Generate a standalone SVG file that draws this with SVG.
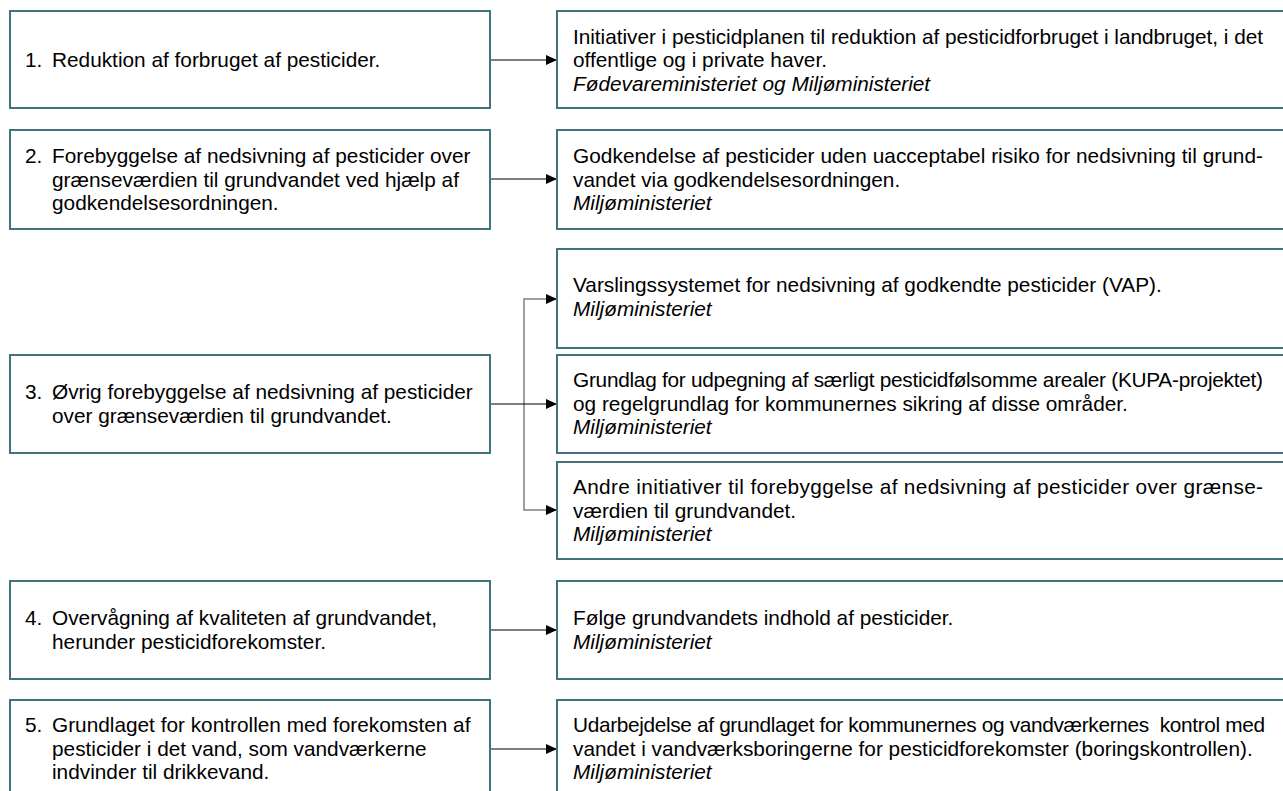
<svg xmlns="http://www.w3.org/2000/svg" width="1283" height="791" viewBox="0 0 1283 791">
<style>
.box{fill:#fff;stroke:#41737f;stroke-width:2}
text{font-family:"Liberation Sans",Arial,sans-serif;font-size:20.8px;fill:#000}
.it{font-style:italic}
.ln{stroke:#000;stroke-width:1.2;fill:none}
.br{stroke:#808080;stroke-width:1.5;fill:none}
</style>
<defs>
<marker id="ah" markerWidth="12" markerHeight="10" refX="11" refY="5" orient="auto" markerUnits="userSpaceOnUse">
<path d="M0,0 L11,5 L0,10 Z" fill="#000"/>
</marker>
</defs>
<rect width="1283" height="791" fill="#fff"/>
<g id="connectors">
<line class="ln" x1="490" y1="60" x2="557" y2="60" marker-end="url(#ah)"/>
<line class="ln" x1="490" y1="179" x2="557" y2="179" marker-end="url(#ah)"/>
<path class="br" d="M557,299 H524 V510 H557"/>
<line class="br" x1="546" y1="299" x2="557" y2="299" marker-end="url(#ah)"/>
<line class="br" x1="546" y1="510" x2="557" y2="510" marker-end="url(#ah)"/>
<line class="ln" x1="490" y1="404" x2="557" y2="404" marker-end="url(#ah)"/>
<line class="ln" x1="490" y1="630" x2="557" y2="630" marker-end="url(#ah)"/>
<line class="ln" x1="490" y1="749" x2="557" y2="749" marker-end="url(#ah)"/>
</g>
<g id="n1">
<rect class="box" x="10" y="11" width="480" height="97"/>
<text x="25" y="67">1.</text><text x="52" y="67">Reduktion af forbruget af pesticider.</text>
</g>
<g id="n2">
<rect class="box" x="10" y="130" width="480" height="99"/>
<text x="25" y="163">2.</text>
<text x="52" y="163">Forebyggelse af nedsivning af pesticider over</text>
<text x="52" y="186.5">grænseværdien til grundvandet ved hjælp af</text>
<text x="52" y="210">godkendelsesordningen.</text>
</g>
<g id="n3">
<rect class="box" x="10" y="355" width="480" height="98"/>
<text x="25" y="399">3.</text>
<text x="52" y="399">Øvrig forebyggelse af nedsivning af pesticider</text>
<text x="52" y="422.5">over grænseværdien til grundvandet.</text>
</g>
<g id="n4">
<rect class="box" x="10" y="581" width="480" height="98"/>
<text x="25" y="625">4.</text>
<text x="52" y="625">Overvågning af kvaliteten af grundvandet,</text>
<text x="52" y="648.5">herunder pesticidforekomster.</text>
</g>
<g id="n5">
<rect class="box" x="10" y="700" width="480" height="110"/>
<text x="25" y="732">5.</text>
<text x="52" y="732">Grundlaget for kontrollen med forekomsten af</text>
<text x="52" y="755.5">pesticider i det vand, som vandværkerne</text>
<text x="52" y="779">indvinder til drikkevand.</text>
</g>
<g id="r1">
<rect class="box" x="557" y="11" width="740" height="97"/>
<text x="573" y="43.5" textLength="690" lengthAdjust="spacing">Initiativer i pesticidplanen til reduktion af pesticidforbruget i landbruget, i det</text>
<text x="573" y="67">offentlige og i private haver.</text>
<text class="it" x="573" y="90.5">Fødevareministeriet og Miljøministeriet</text>
</g>
<g id="r2">
<rect class="box" x="557" y="130" width="740" height="99"/>
<text x="573" y="163" textLength="690" lengthAdjust="spacing">Godkendelse af pesticider uden uacceptabel risiko for nedsivning til grund-</text>
<text x="573" y="186.5">vandet via godkendelsesordningen.</text>
<text class="it" x="573" y="210">Miljøministeriet</text>
</g>
<g id="r3a">
<rect class="box" x="557" y="249" width="740" height="99"/>
<text x="573" y="292">Varslingssystemet for nedsivning af godkendte pesticider (VAP).</text>
<text class="it" x="573" y="315.5">Miljøministeriet</text>
</g>
<g id="r3b">
<rect class="box" x="557" y="355" width="740" height="98"/>
<text x="573" y="387" textLength="690" lengthAdjust="spacing">Grundlag for udpegning af særligt pesticidfølsomme arealer (KUPA-projektet)</text>
<text x="573" y="410.5">og regelgrundlag for kommunernes sikring af disse områder.</text>
<text class="it" x="573" y="434">Miljøministeriet</text>
</g>
<g id="r3c">
<rect class="box" x="557" y="462" width="740" height="97"/>
<text x="573" y="494" textLength="690" lengthAdjust="spacing">Andre initiativer til forebyggelse af nedsivning af pesticider over grænse-</text>
<text x="573" y="517.5">værdien til grundvandet.</text>
<text class="it" x="573" y="541">Miljøministeriet</text>
</g>
<g id="r4">
<rect class="box" x="557" y="581" width="740" height="98"/>
<text x="573" y="625">Følge grundvandets indhold af pesticider.</text>
<text class="it" x="573" y="648.5">Miljøministeriet</text>
</g>
<g id="r5">
<rect class="box" x="557" y="700" width="740" height="110"/>
<text x="573" y="732" xml:space="preserve" textLength="692" lengthAdjust="spacing">Udarbejdelse af grundlaget for kommunernes og vandværkernes  kontrol med</text>
<text x="573" y="755.5">vandet i vandværksboringerne for pesticidforekomster (boringskontrollen).</text>
<text class="it" x="573" y="779">Miljøministeriet</text>
</g>
</svg>
